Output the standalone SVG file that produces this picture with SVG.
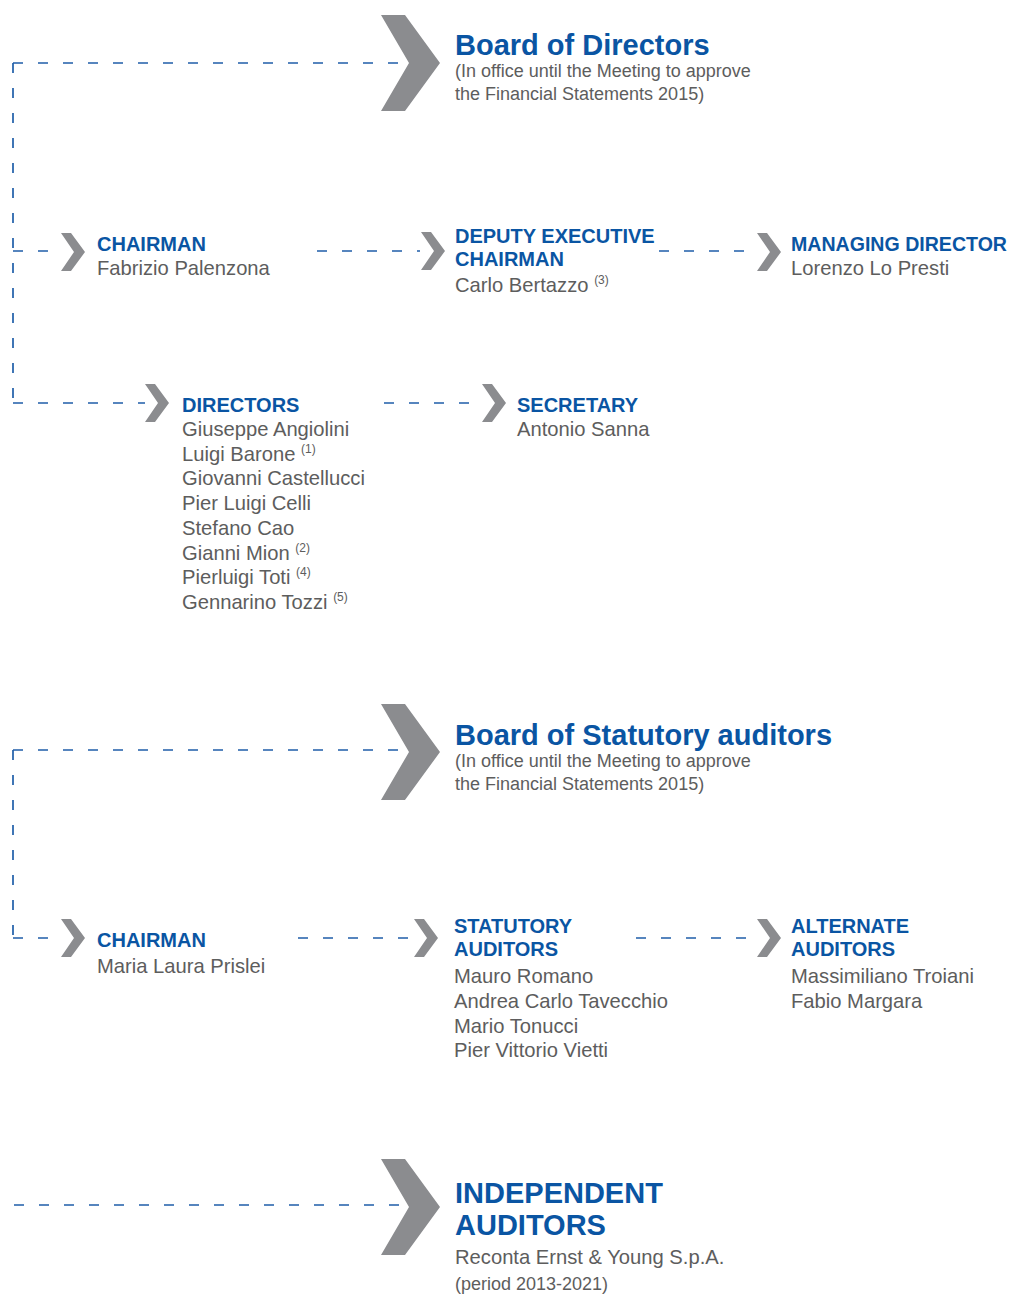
<svg xmlns="http://www.w3.org/2000/svg" width="1010" height="1294" viewBox="0 0 1010 1294">
  <defs>
    <style>
      .dash { fill: none; stroke: #1f5ea9; stroke-width: 1.7; stroke-dasharray: 10 15; }
      .chev { fill: #8b8c8f; }
      .title { font-family: "Liberation Sans", Arial, sans-serif; font-weight: bold; font-size: 29px; fill: #0a55a3; }
      .head { font-family: "Liberation Sans", Arial, sans-serif; font-weight: bold; font-size: 20px; fill: #0a55a3; }
      .name { font-family: "Liberation Sans", Arial, sans-serif; font-size: 20.2px; fill: #5d5d5d; }
      .sub { font-family: "Liberation Sans", Arial, sans-serif; font-size: 18px; fill: #5d5d5d; }
      .note { font-family: "Liberation Sans", Arial, sans-serif; font-size: 12px; fill: #5d5d5d; }
    </style>
    <!-- large chevron, tip at (59,48) -->
    <path id="bigChev" d="M0,0 H24 L59,48 L24,96 H0 L28,48 Z"/>
    <!-- small chevron, tip at (24,19) -->
    <path id="smallChev" d="M0,0 H10 L24,19 L10,38 H0 L13,19 Z"/>
  </defs>

  <rect width="1010" height="1294" fill="#ffffff"/>

  <!-- dashed connectors -->
  <g id="connectors">
    <path class="dash" d="M13,63 H408"/>
    <path class="dash" d="M13,63 V403"/>
    <path class="dash" d="M13,251 H60"/>
    <path class="dash" d="M13,403 H145"/>
    <path class="dash" d="M317,251 H420"/>
    <path class="dash" d="M659,251 H756"/>
    <path class="dash" d="M384,403 H481"/>

    <path class="dash" d="M13,750 H408"/>
    <path class="dash" d="M13,750 V938"/>
    <path class="dash" d="M13,938 H60"/>
    <path class="dash" d="M298,938 H413"/>
    <path class="dash" d="M636,938 H756"/>

    <path class="dash" d="M14,1205 H405"/>
  </g>

  <!-- Board of Directors -->
  <g id="board-of-directors">
    <use href="#bigChev" class="chev" x="381" y="15"/>
    <text class="title" x="455" y="55">Board of Directors</text>
    <text class="sub" x="455" y="77">(In office until the Meeting to approve</text>
    <text class="sub" x="455" y="100">the Financial Statements 2015)</text>
  </g>

  <g id="chairman">
    <use href="#smallChev" class="chev" x="61" y="233"/>
    <text class="head" x="97" y="251">CHAIRMAN</text>
    <text class="name" x="97" y="275">Fabrizio Palenzona</text>
  </g>

  <g id="deputy-executive-chairman">
    <use href="#smallChev" class="chev" x="421" y="232"/>
    <text class="head" x="455" y="243">DEPUTY EXECUTIVE</text>
    <text class="head" x="455" y="266">CHAIRMAN</text>
    <text class="name" x="455" y="292">Carlo Bertazzo <tspan class="note" dy="-8">(3)</tspan></text>
  </g>

  <g id="managing-director">
    <use href="#smallChev" class="chev" x="757" y="233"/>
    <text class="head" x="791" y="251" textLength="216" lengthAdjust="spacingAndGlyphs">MANAGING DIRECTOR</text>
    <text class="name" x="791" y="275">Lorenzo Lo Presti</text>
  </g>

  <g id="directors">
    <use href="#smallChev" class="chev" x="145" y="384"/>
    <text class="head" x="182" y="412">DIRECTORS</text>
    <text class="name" x="182" y="436">Giuseppe Angiolini</text>
    <text class="name" x="182" y="461">Luigi Barone <tspan class="note" dy="-8">(1)</tspan></text>
    <text class="name" x="182" y="485">Giovanni Castellucci</text>
    <text class="name" x="182" y="510">Pier Luigi Celli</text>
    <text class="name" x="182" y="535">Stefano Cao</text>
    <text class="name" x="182" y="560">Gianni Mion <tspan class="note" dy="-8">(2)</tspan></text>
    <text class="name" x="182" y="584">Pierluigi Toti <tspan class="note" dy="-8">(4)</tspan></text>
    <text class="name" x="182" y="609">Gennarino Tozzi <tspan class="note" dy="-8">(5)</tspan></text>
  </g>

  <g id="secretary">
    <use href="#smallChev" class="chev" x="482" y="384"/>
    <text class="head" x="517" y="412">SECRETARY</text>
    <text class="name" x="517" y="436">Antonio Sanna</text>
  </g>

  <!-- Board of Statutory auditors -->
  <g id="board-of-statutory-auditors">
    <use href="#bigChev" class="chev" x="381" y="704"/>
    <text class="title" x="455" y="745">Board of Statutory auditors</text>
    <text class="sub" x="455" y="767">(In office until the Meeting to approve</text>
    <text class="sub" x="455" y="790">the Financial Statements 2015)</text>
  </g>

  <g id="statutory-chairman">
    <use href="#smallChev" class="chev" x="61" y="919"/>
    <text class="head" x="97" y="947">CHAIRMAN</text>
    <text class="name" x="97" y="973">Maria Laura Prislei</text>
  </g>

  <g id="statutory-auditors">
    <use href="#smallChev" class="chev" x="414" y="919"/>
    <text class="head" x="454" y="933">STATUTORY</text>
    <text class="head" x="454" y="956">AUDITORS</text>
    <text class="name" x="454" y="983">Mauro Romano</text>
    <text class="name" x="454" y="1008">Andrea Carlo Tavecchio</text>
    <text class="name" x="454" y="1033">Mario Tonucci</text>
    <text class="name" x="454" y="1057">Pier Vittorio Vietti</text>
  </g>

  <g id="alternate-auditors">
    <use href="#smallChev" class="chev" x="757" y="919"/>
    <text class="head" x="791" y="933">ALTERNATE</text>
    <text class="head" x="791" y="956">AUDITORS</text>
    <text class="name" x="791" y="983">Massimiliano Troiani</text>
    <text class="name" x="791" y="1008">Fabio Margara</text>
  </g>

  <!-- Independent auditors -->
  <g id="independent-auditors">
    <use href="#bigChev" class="chev" x="381" y="1159"/>
    <text class="title" x="455" y="1203">INDEPENDENT</text>
    <text class="title" x="455" y="1235">AUDITORS</text>
    <text class="name" x="455" y="1264">Reconta Ernst &amp; Young S.p.A.</text>
    <text class="sub" x="455" y="1290">(period 2013-2021)</text>
  </g>
</svg>
